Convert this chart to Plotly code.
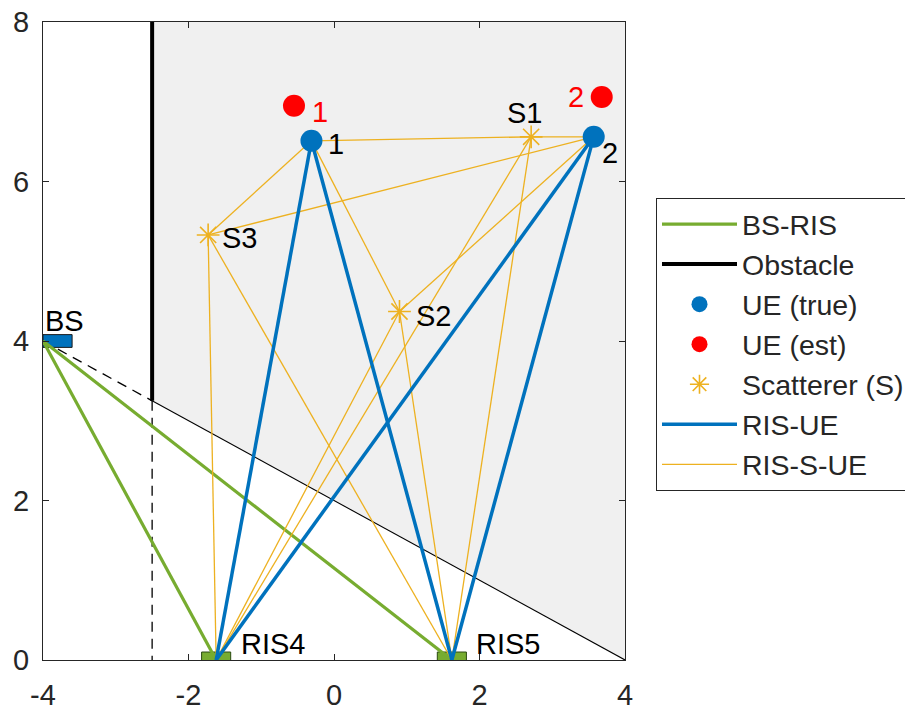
import plotly.graph_objects as go

# ---------------- data ----------------
BS = (-4.0, 4.0)
RIS_x = [-1.62, 1.62]
RIS_y = [0.0, 0.0]
RIS_names = ["RIS4", "RIS5"]
UE_true_x = [-0.31, 3.57]
UE_true_y = [6.51, 6.56]
UE_est_x = [-0.55, 3.68]
UE_est_y = [6.95, 7.06]
UE_names = ["1", "2"]
S_x = [2.71, 0.90, -1.73]
S_y = [6.56, 4.37, 5.33]
S_names = ["S1", "S2", "S3"]
OBST_x = -2.5
OBST_y = [3.25, 8.0]
X_RANGE = [-4, 4]
Y_RANGE = [0, 8]
X_TICKS = [-4, -2, 0, 2, 4]
X_TICKTEXT = ["-4", "-2", "0", "2", "4"]
Y_TICKS = [0, 2, 4, 6, 8]
Y_TICKTEXT = ["0", "2", "4", "6", "8"]

GREEN = "#77AC30"
BLUE = "#0072BD"
YELLOW = "#EDB120"
RED = "#FF0000"
FONT = "Liberation Sans, Arial, sans-serif"
TXT = "#262626"

fig = go.Figure()

# shadow region behind obstacle (as seen from BS)
slope = (OBST_y[0] - BS[1]) / (OBST_x - BS[0])
y_at_right = OBST_y[0] + slope * (X_RANGE[1] - OBST_x)
fig.add_trace(go.Scatter(
    x=[OBST_x, X_RANGE[1], X_RANGE[1], OBST_x, OBST_x],
    y=[Y_RANGE[1], Y_RANGE[1], y_at_right, OBST_y[0], Y_RANGE[1]],
    fill="toself", fillcolor="#F0F0F0", line=dict(width=0), mode="lines",
    showlegend=False, hoverinfo="skip"))
# shadow boundary
fig.add_trace(go.Scatter(x=[OBST_x, X_RANGE[1]], y=[OBST_y[0], y_at_right], mode="lines",
                         line=dict(color="black", width=1.1), showlegend=False))
# dashed helper lines
fig.add_trace(go.Scatter(x=[BS[0], OBST_x, None, OBST_x, OBST_x],
                         y=[BS[1], OBST_y[0], None, OBST_y[0], Y_RANGE[0]], mode="lines",
                         line=dict(color="black", width=1.3, dash="10px,7px"), showlegend=False))

# rectangles (BS and RIS)
def rect(cx, cy, hw, hh):
    return [cx - hw, cx + hw, cx + hw, cx - hw, cx - hw], [cy - hh, cy - hh, cy + hh, cy + hh, cy - hh]

bx, by = rect(BS[0] + 0.2, BS[1], 0.2, 0.08)
fig.add_trace(go.Scatter(x=bx, y=by, fill="toself", fillcolor=BLUE, mode="lines",
                         line=dict(color="#1a1a1a", width=1), showlegend=False))
for rx, ry in zip(RIS_x, RIS_y):
    xx, yy = rect(rx, ry, 0.2, 0.1)
    fig.add_trace(go.Scatter(x=xx, y=yy, fill="toself", fillcolor=GREEN, mode="lines",
                             line=dict(color="#2a4a10", width=1), showlegend=False))

# BS-RIS
gx, gy = [], []
for rx, ry in zip(RIS_x, RIS_y):
    gx += [BS[0], rx, None]
    gy += [BS[1], ry, None]
fig.add_trace(go.Scatter(x=gx, y=gy, mode="lines", line=dict(color=GREEN, width=3.2),
                         name="BS-RIS", legendrank=1))
# Obstacle
fig.add_trace(go.Scatter(x=[OBST_x, OBST_x], y=OBST_y, mode="lines",
                         line=dict(color="black", width=4), name="Obstacle", legendrank=2))
# RIS-S-UE
yx, yy_ = [], []
for rx, ry in zip(RIS_x, RIS_y):
    for sx, sy in zip(S_x, S_y):
        yx += [rx, sx, None]
        yy_ += [ry, sy, None]
for sx, sy in zip(S_x, S_y):
    for ux, uy in zip(UE_true_x, UE_true_y):
        yx += [sx, ux, None]
        yy_ += [sy, uy, None]
fig.add_trace(go.Scatter(x=yx, y=yy_, mode="lines", line=dict(color=YELLOW, width=1.3),
                         name="RIS-S-UE", legendrank=7))
# RIS-UE
bx2, by2 = [], []
for rx, ry in zip(RIS_x, RIS_y):
    for ux, uy in zip(UE_true_x, UE_true_y):
        bx2 += [rx, ux, None]
        by2 += [ry, uy, None]
fig.add_trace(go.Scatter(x=bx2, y=by2, mode="lines", line=dict(color=BLUE, width=3.5),
                         name="RIS-UE", legendrank=6))
# markers
fig.add_trace(go.Scatter(x=UE_true_x, y=UE_true_y, mode="markers",
                         marker=dict(color=BLUE, size=22), name="UE (true)", legendrank=3))
fig.add_trace(go.Scatter(x=UE_est_x, y=UE_est_y, mode="markers",
                         marker=dict(color=RED, size=22), name="UE (est)", legendrank=4))
fig.add_trace(go.Scatter(x=S_x, y=S_y, mode="markers",
                         marker=dict(symbol="asterisk-open", color=YELLOW, size=19,
                                     line=dict(color=YELLOW, width=1.6)),
                         name="Scatterer (S)", legendrank=5))

# text labels
ann = []
def label(x, y, t, color="black", xanchor="left"):
    ann.append(dict(x=x, y=y, xref="x", yref="y", text=t, showarrow=False,
                    xanchor=xanchor, yanchor="middle",
                    font=dict(family=FONT, size=29, color=color)))

label(BS[0], BS[1] + 0.25, "BS")
for rx, ry, n in zip(RIS_x, RIS_y, RIS_names):
    label(rx + 0.31, ry + 0.2, n)
S_off = [(-0.36, 0.3), (0.2, -0.06), (0.16, -0.04)]
for sx, sy, n, (dx, dy) in zip(S_x, S_y, S_names, S_off):
    label(sx + dx, sy + dy, n)
label(UE_true_x[0] + 0.2, UE_true_y[0] - 0.04, UE_names[0])
label(UE_true_x[1] + 0.08, UE_true_y[1] - 0.2, UE_names[1])
label(UE_est_x[0] + 0.22, UE_est_y[0] - 0.08, UE_names[0], RED)
label(UE_est_x[1] - 0.22, UE_est_y[1], UE_names[1], RED, xanchor="right")

axis_common = dict(showgrid=False, zeroline=False, showline=True, linecolor=TXT, linewidth=1,
                   mirror="ticks", ticks="inside", ticklen=6, tickcolor=TXT,
                   tickfont=dict(family=FONT, size=29, color=TXT), automargin=False)

fig.update_layout(
    width=905, height=711,
    margin=dict(l=43, r=280, t=22, b=51),
    paper_bgcolor="white", plot_bgcolor="white",
    xaxis=dict(range=X_RANGE, tickvals=X_TICKS, ticktext=X_TICKTEXT,
               ticklabelstandoff=9, **axis_common),
    yaxis=dict(range=Y_RANGE, tickvals=Y_TICKS, ticktext=Y_TICKTEXT,
               ticklabelstandoff=7, **axis_common),
    annotations=ann,
    showlegend=True,
    legend=dict(xref="container", yref="container",
                x=656 / 905, y=1 - 198 / 711, xanchor="left", yanchor="top",
                bgcolor="white", bordercolor=TXT, borderwidth=1,
                tracegroupgap=0, itemwidth=75,
                font=dict(family=FONT, size=28.5, color=TXT)),
)

fig.write_html("out.html")
